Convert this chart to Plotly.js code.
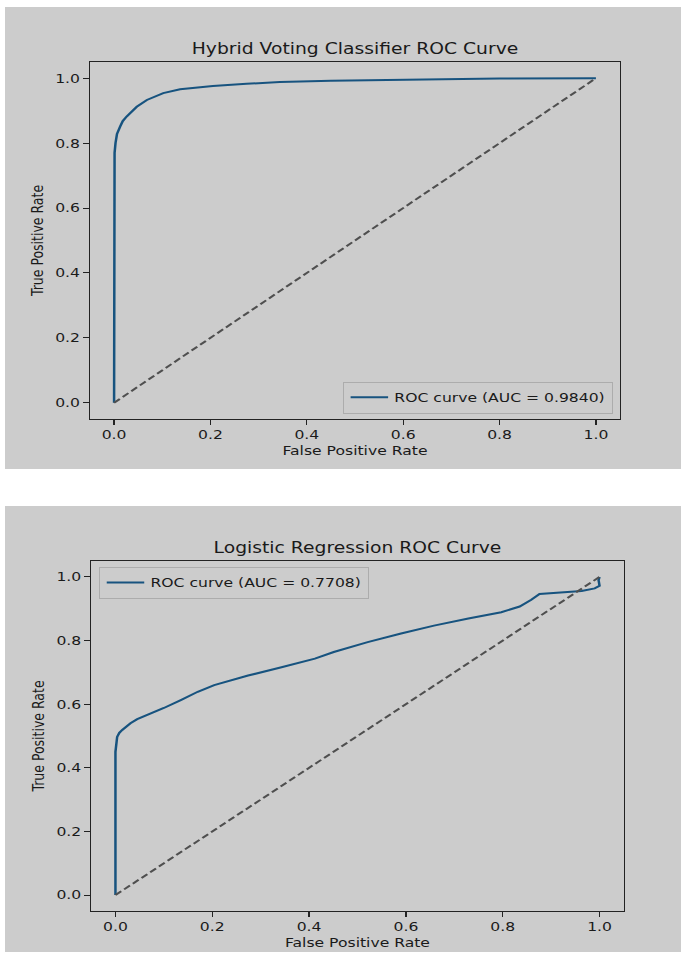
<!DOCTYPE html>
<html>
<head>
<meta charset="utf-8">
<script src="https://cdn.plot.ly/plotly-3.0.1.min.js"></script>
<style>
  html, body { margin: 0; padding: 0; background: #ffffff; width: 681px; height: 956px; overflow: hidden; }
  .panel { position: absolute; left: 5px; transform: scaleX(1.25); transform-origin: 0 0; }
  #top { top: 7px; width: 541px; height: 462px; }
  #bot { top: 506px; width: 541px; height: 446px; }
</style>
</head>
<body>
<div id="top" class="panel"></div>
<div id="bot" class="panel"></div>
<script>
// Hybrid Voting Classifier ROC curve
const fprHybrid = [0, 0, 0.001, 0.003, 0.006, 0.0125, 0.018, 0.026, 0.036, 0.047, 0.068, 0.102, 0.137, 0.205, 0.275, 0.344, 0.45, 0.6, 0.8, 1.0];
const tprHybrid = [0, 0.72, 0.77, 0.801, 0.828, 0.851, 0.868, 0.882, 0.898, 0.912, 0.933, 0.954, 0.966, 0.976, 0.983, 0.988, 0.992, 0.996, 0.999, 1.0];
const aucHybrid = "0.9840";

// Logistic Regression ROC curve
const fprLogit = [0, 0, 0.0035, 0.008, 0.014, 0.022, 0.031, 0.045, 0.066, 0.1, 0.135, 0.17, 0.204, 0.274, 0.343, 0.412, 0.451, 0.521, 0.59, 0.658, 0.729, 0.797, 0.835, 0.859, 0.876, 0.927, 0.963, 0.99, 1.0, 0.998, 1.0];
const tprLogit = [0, 0.45, 0.497, 0.51, 0.519, 0.53, 0.54, 0.553, 0.566, 0.588, 0.613, 0.639, 0.66, 0.69, 0.716, 0.743, 0.764, 0.795, 0.822, 0.847, 0.869, 0.889, 0.907, 0.928, 0.946, 0.952, 0.956, 0.964, 0.972, 0.99, 1.0];
const aucLogit = "0.7708";

// chance diagonal
const diagX = [0, 1];
const diagY = [0, 1];

const tickVals = [0, 0.2, 0.4, 0.6, 0.8, 1.0];
const tickText = ["0.0", "0.2", "0.4", "0.6", "0.8", "1.0"];

const FONT = "DejaVu Sans, Verdana, sans-serif";
const BG = "#cccccc";
const CURVE = "#17537f";

function axisBase(titleText, standoff) {
  return {
    range: [-0.05, 1.05],
    tickvals: tickVals,
    ticktext: tickText,
    ticks: "outside",
    ticklen: 4.5,
    tickwidth: 1,
    tickcolor: "#222",
    showline: true,
    linecolor: "#222",
    linewidth: 1,
    mirror: true,
    showgrid: false,
    zeroline: false,
    tickfont: { family: FONT, size: 12.5, color: "#1a1a1a" },
    title: { text: titleText, font: { family: FONT, size: 12.5, color: "#1a1a1a" }, standoff: standoff },
    automargin: false,
    fixedrange: true
  };
}

function makeChart(id, title, fpr, tpr, auc, margin, h, legendPos) {
  const traces = [
    {
      x: fpr, y: tpr, type: "scatter", mode: "lines",
      name: "ROC curve (AUC = " + auc + ")",
      line: { color: CURVE, width: 2 }
    },
    {
      x: diagX, y: diagY, type: "scatter", mode: "lines",
      showlegend: false,
      line: { color: "#4f4f4f", width: 1.9, dash: "6px,3px" }
    }
  ];
  const layout = {
    width: 541, height: h,
    margin: margin,
    paper_bgcolor: BG,
    plot_bgcolor: BG,
    font: { family: FONT, color: "#1a1a1a" },
    title: {
      text: title,
      font: { family: FONT, size: 15, color: "#1a1a1a" },
      x: 0.5, xref: "paper", xanchor: "center",
      y: 1 - 42 / h, yref: "container", yanchor: "middle"
    },
    xaxis: axisBase("False Positive Rate", 4),
    yaxis: axisBase("True Positive Rate", 6),
    showlegend: true,
    legend: Object.assign({
      bgcolor: BG,
      bordercolor: "#acacac",
      borderwidth: 1,
      font: { family: FONT, size: 12.5, color: "#1a1a1a" },
      tracegroupgap: 0
    }, legendPos)
  };
  Plotly.newPlot(id, traces, layout, { displayModeBar: false, staticPlot: true, responsive: false });
}

makeChart("top", "Hybrid Voting Classifier ROC Curve", fprHybrid, tprHybrid, aucHybrid,
  { l: 68, r: 49, t: 55, b: 50, pad: 0 }, 462,
  { x: 0.987, xanchor: "right", y: 0.015, yanchor: "bottom" });

makeChart("bot", "Logistic Regression ROC Curve", fprLogit, tprLogit, aucLogit,
  { l: 68.6, r: 46, t: 55, b: 41, pad: 0 }, 446,
  { x: 0.015, xanchor: "left", y: 0.983, yanchor: "top" });
</script>
</body>
</html>
